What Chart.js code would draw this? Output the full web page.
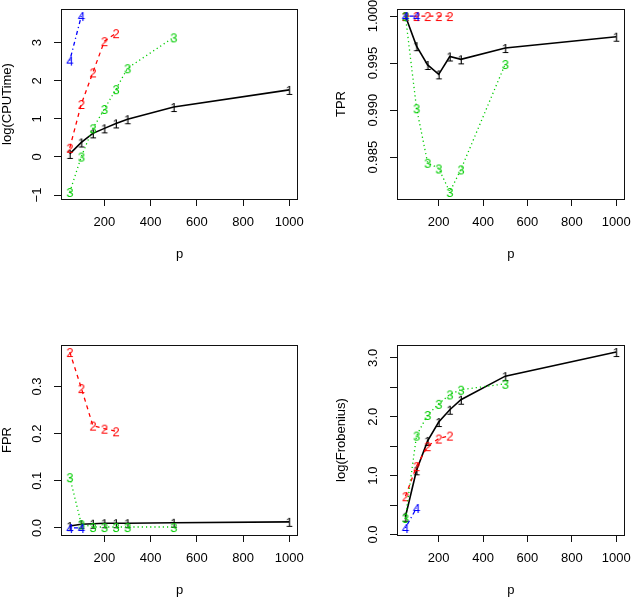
<!DOCTYPE html>
<html><head><meta charset="utf-8">
<script src="https://cdn.jsdelivr.net/npm/chart.js@4/dist/chart.umd.min.js"></script>
<style>
html,body{margin:0;padding:0;background:#fff;overflow:hidden;width:640px;height:598px;}
.panel{position:absolute;width:320px;height:300px;}
canvas{display:block;}
</style></head><body>
<div class="panel" style="left:0;top:0"><canvas id="c1" width="320" height="300"></canvas></div>
<div class="panel" style="left:320px;top:0"><canvas id="c2" width="320" height="300"></canvas></div>
<div class="panel" style="left:0;top:300px"><canvas id="c3" width="320" height="300"></canvas></div>
<div class="panel" style="left:320px;top:300px"><canvas id="c4" width="320" height="300"></canvas></div>
<script>
// ---- data ----
const pAll = [50, 100, 150, 200, 250, 300, 500, 1000];   // method 1
const p2 = [50, 100, 150, 200, 250];                      // method 2
const p3 = [50, 100, 150, 200, 250, 300, 500];            // method 3
const p4 = [50, 100];                                     // method 4

const cpu1 = [0.08, 0.38, 0.62, 0.75, 0.88, 0.99, 1.31, 1.76];
const cpu2 = [0.24, 1.39, 2.22, 3.04, 3.25];
const cpu3 = [-0.92, 0.01, 0.75, 1.26, 1.78, 2.33, 3.14];
const cpu4 = [2.53, 3.70];

const tpr1 = [1.0, 0.9968, 0.9948, 0.9938, 0.9957, 0.9954, 0.9966, 0.9978];
const tpr2 = [1.0, 1.0, 1.0, 1.0, 1.0];
const tpr3 = [1.0, 0.9902, 0.9844, 0.9838, 0.9813, 0.9837, 0.9949];
const tpr4 = [1.0, 1.0];

const fpr1 = [0.004, 0.008, 0.009, 0.010, 0.010, 0.010, 0.011, 0.013];
const fpr2 = [0.373, 0.2965, 0.217, 0.2106, 0.205];
const fpr3 = [0.1077, 0.008, 0.002, 0.002, 0.002, 0.002, 0.002];
const fpr4 = [0.0, 0.0];

const frob1 = [0.30, 1.09, 1.59, 1.91, 2.12, 2.29, 2.69, 3.10];
const frob2 = [0.65, 1.16, 1.50, 1.63, 1.68];
const frob3 = [0.28, 1.68, 2.03, 2.22, 2.38, 2.46, 2.56];
const frob4 = [0.11, 0.45];

const xTicks = [200, 400, 600, 800, 1000];
const xTickLabels = ['200', '400', '600', '800', '1000'];
const cpuTicks = [-1, 0, 1, 2, 3];
const cpuTickLabels = ['\u22121', '0', '1', '2', '3'];
const tprTicks = [0.985, 0.990, 0.995, 1.000];
const tprTickLabels = ['0.985', '0.990', '0.995', '1.000'];
const fprTicks = [0, 0.1, 0.2, 0.3];
const fprTickLabels = ['0.0', '0.1', '0.2', '0.3'];
const frobTicks = [0, 0.5, 1, 1.5, 2, 2.5, 3];
const frobTickLabels = ['0.0', '', '1.0', '', '2.0', '', '3.0'];
const seriesSymbols = ['1', '2', '3', '4'];

// ---- styling ----
const FONT = '"Liberation Sans", Arial, Helvetica, sans-serif';
const COLORS = ['#000000', '#FF0000', '#00CD00', '#0000FF'];
const DASHES = [[], [4, 4], [1.2, 3], [1.2, 3, 4, 3]];
const WIDTHS = [1.6, 1.3, 1.3, 1.3];
const X_MIN = 50, X_MAX = 1000;

function digitCanvas(d, color) {
  const c = document.createElement('canvas');
  c.width = 14; c.height = 16;
  const g = c.getContext('2d');
  g.font = '13px ' + FONT;
  g.fillStyle = color;
  g.textAlign = 'center';
  g.textBaseline = 'alphabetic';
  g.fillText(d, 7, 8 + 4.7);
  return c;
}

function toPts(xs, ys) { return xs.map((x, i) => ({x: x, y: ys[i]})); }

function makeChart(id, cfg) {
  const xs = [pAll, p2, p3, p4];
  const datasets = cfg.series.map((ys, k) => ({
    data: toPts(xs[k], ys),
    borderColor: COLORS[k],
    backgroundColor: COLORS[k],
    borderWidth: WIDTHS[k],
    borderDash: DASHES[k],
    pointStyle: digitCanvas(seriesSymbols[k], COLORS[k]),
    pointRadius: 7,
    tension: 0,
    clip: false,
    order: 4 - k
  }));
  const all = [].concat(...cfg.series);
  const lo = Math.min(...all), hi = Math.max(...all);
  const r = hi - lo;
  const xr = X_MAX - X_MIN;
  const b = cfg.box;
  const frame = {
    id: 'rframe' + id,
    afterDraw(chart) {
      const ctx = chart.ctx, a = chart.chartArea;
      ctx.save();
      ctx.strokeStyle = '#111';
      ctx.lineWidth = 1;
      ctx.setLineDash([]);
      ctx.strokeRect(Math.round(a.left) + 0.5, Math.round(a.top) + 0.5,
                     Math.round(a.right - a.left) - 1, Math.round(a.bottom - a.top));
      const ys = chart.scales.y;
      ctx.font = '13px ' + FONT;
      ctx.fillStyle = '#000';
      ctx.textAlign = 'center';
      ctx.textBaseline = 'middle';
      ys.ticks.forEach((t, i) => {
        const lab = cfg.yTickLabels[i];
        if (!lab) return;
        const y = ys.getPixelForValue(t.value);
        ctx.save();
        ctx.translate(a.left - 24, y);
        ctx.rotate(-Math.PI / 2);
        ctx.fillText(lab, 0, 0);
        ctx.restore();
      });
      ctx.restore();
    }
  };
  return new Chart(document.getElementById(id), {
    type: 'line',
    data: {datasets: datasets},
    plugins: [frame],
    options: {
      responsive: false,
      animation: false,
      events: [],
      layout: {padding: {top: b.top, right: 320 - b.right, bottom: 0, left: 0}},
      plugins: {legend: {display: false}, tooltip: {enabled: false}},
      scales: {
        x: {
          type: 'linear',
          min: X_MIN - 0.04 * xr,
          max: X_MAX + 0.04 * xr,
          afterBuildTicks: s => { s.ticks = xTicks.map(v => ({value: v})); },
          afterFit: s => { s.height = 300 - b.bottom; },
          border: {display: false},
          grid: {display: true, drawOnChartArea: false, drawTicks: true, tickLength: 7, color: '#111', lineWidth: 1},
          ticks: {
            autoSkip: false, maxRotation: 0, padding: 9, color: '#000',
            font: {family: FONT, size: 13},
            callback: (v, i) => xTickLabels[i]
          },
          title: {display: true, text: 'p', color: '#000', font: {family: FONT, size: 13},
                  padding: {top: 0, bottom: cfg.xTitlePad}}
        },
        y: {
          type: 'linear',
          min: lo - 0.04 * r,
          max: hi + 0.04 * r,
          afterBuildTicks: s => { s.ticks = cfg.yTicks.map(v => ({value: v})); },
          afterFit: s => { s.width = b.left; },
          border: {display: false},
          grid: {display: true, drawOnChartArea: false, drawTicks: true, tickLength: 7, color: '#111', lineWidth: 1},
          ticks: {display: false, autoSkip: false},
          title: {display: true, text: cfg.yTitle, color: '#000', font: {family: FONT, size: 13},
                  padding: {top: cfg.yTitlePad, bottom: 0}}
        }
      }
    }
  });
}

makeChart('c1', {series: [cpu1, cpu2, cpu3, cpu4], yTicks: cpuTicks, yTickLabels: cpuTickLabels,
  yTitle: 'log(CPUTime)', box: {left: 61, right: 298, top: 9, bottom: 199}, yTitlePad: 0, xTitlePad: 38});
makeChart('c2', {series: [tpr1, tpr2, tpr3, tpr4], yTicks: tprTicks, yTickLabels: tprTickLabels,
  yTitle: 'TPR', box: {left: 77, right: 314, top: 9, bottom: 199}, yTitlePad: 14, xTitlePad: 38});
makeChart('c3', {series: [fpr1, fpr2, fpr3, fpr4], yTicks: fprTicks, yTickLabels: fprTickLabels,
  yTitle: 'FPR', box: {left: 61, right: 298, top: 45, bottom: 235}, yTitlePad: 0, xTitlePad: 2});
makeChart('c4', {series: [frob1, frob2, frob3, frob4], yTicks: frobTicks, yTickLabels: frobTickLabels,
  yTitle: 'log(Frobenius)', box: {left: 77, right: 314, top: 45, bottom: 235}, yTitlePad: 14, xTitlePad: 2});
</script>
</body></html>
